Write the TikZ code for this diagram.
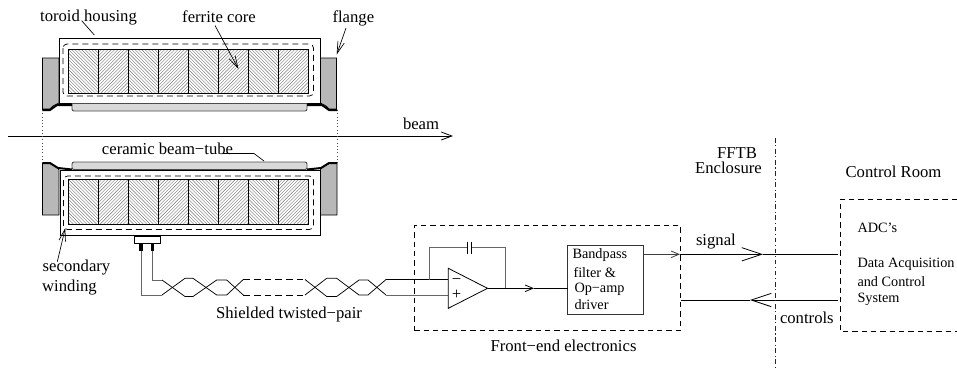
\documentclass[tikz,border=0pt]{standalone}
\usepackage{fontspec}
\setmainfont{Liberation Serif}
\usetikzlibrary{arrows.meta}
\newcommand{\hatchcell}[5]{% x0 y0 x1 y1 dir
  \begin{scope}
    \clip (#1,#2) rectangle (#3,#4);
    \foreach \k in {-30,...,30}{
      \draw[hatchline] ({#1+\k*3.3},#2) -- ({#1+\k*3.3+#5*(#4-#2)},#4);
    }
  \end{scope}}
\tikzset{
  x=0.75pt,y=-0.75pt,
  every node/.style={inner sep=0pt,outer sep=0pt},
  hatchline/.style={draw=black!55,line width=0.3pt},
  lab/.style={font=\fontsize{12.5pt}{14pt}\selectfont,align=center},
  small/.style={font=\fontsize{10.7pt}{12pt}\selectfont,align=left,anchor=west},
  wire/.style={draw=black,line width=0.55pt},
  gwire/.style={draw=black!60,line width=0.75pt},
  thick line/.style={draw=black,line width=1.5pt},
  dashbox/.style={draw=black,line width=0.55pt,dash pattern=on 4pt off 3pt},
  innerdash/.style={draw=black,line width=0.55pt,dash pattern=on 4.5pt off 3pt,rounded corners=3pt},
  dotline/.style={draw=black!70,line width=0.45pt,dotted},
  flangefill/.style={fill=black!28,draw=black,line width=0.6pt},
  tubefill/.style={fill=black!15,draw=black!70,line width=0.7pt,rounded corners=1.5pt},
  housing/.style={draw=black,line width=0.7pt},
  corebox/.style={draw=black,line width=0.7pt},
  openhead/.style={-{Straight Barb[length=6pt,width=5pt,line width=0.6pt]}},
  bighead/.style={-{Straight Barb[length=15pt,width=10pt,line width=0.6pt]}},
  leader/.style={draw=black,line width=0.5pt},
  pointer/.style={draw=black,line width=0.5pt,-{Straight Barb[length=9pt,width=5pt,line width=0.5pt]}},
}
\begin{document}
\begin{tikzpicture}
\useasboundingbox (0,0) rectangle (957,369);
% --- top toroid
\draw[flangefill] (42.5,109) -- (42.5,58) -- (59,58) -- (59,103) -- (53,106) -- (50,109) -- cycle;
\draw[flangefill] (336.5,109) -- (336.5,58) -- (320.5,58) -- (320.5,103) -- (326,106) -- (329,109) -- cycle;
\draw[housing] (59,38) rectangle (320.5,103);
\draw[innerdash] (63,44) rectangle (313.5,96);
\foreach \i [evaluate=\i as \xa using 68.3+30*\i, evaluate=\i as \xb using 68.3+30*(\i+1), evaluate=\i as \d using {ifthenelse(mod(\i,2)==0,1,-1)}] in {0,...,7}{
  \hatchcell{\xa}{49.5}{\xb}{93.5}{\d}
  \draw[corebox] (\xa,49.5) rectangle (\xb,93.5);
}
\draw[tubefill] (72,103.5) -- (72,111) -- (307,111) -- (307,103.5);
\draw[thick line] (42,110) -- (50,110) -- (57,105) -- (72,105);
\draw[thick line] (307,105) -- (322,105) -- (329,110) -- (337,110);
% --- bottom toroid
\draw[flangefill] (42.5,215) -- (42.5,163.5) -- (50,163.5) -- (58,168) -- (59,170) -- (59,215) -- cycle;
\draw[flangefill] (337,215) -- (337,163.5) -- (329,163.5) -- (321,168) -- (320.5,170) -- (320.5,215) -- cycle;
\draw[housing] (60,170) rectangle (320.5,235.5);
\draw[innerdash] (63.5,176) rectangle (313.5,229.5);
\foreach \i [evaluate=\i as \xa using 68.5+30.05*\i, evaluate=\i as \xb using 68.5+30.05*(\i+1), evaluate=\i as \d using {ifthenelse(mod(\i,2)==0,1,-1)}] in {0,...,7}{
  \hatchcell{\xa}{179.5}{\xb}{224.5}{\d}
  \draw[corebox] (\xa,179.5) rectangle (\xb,224.5);
}
\draw[tubefill] (72,169.5) -- (72,162) -- (307,162) -- (307,169.5) -- cycle;
\draw[thick line] (42,163) -- (50,163) -- (58,168) -- (72,169.5);
\draw[thick line] (307,169.5) -- (321,168) -- (329,163) -- (337,163);
% --- beam and dotted guides
\coordinate (beamL) at (8,136);
\coordinate (beamR) at (453,136);
\draw[wire,-{Straight Barb[length=8pt,width=6pt,line width=0.6pt]}] (beamL) -- (beamR);
\coordinate (dla) at (42,110); \coordinate (dlb) at (42,163);
\coordinate (dra) at (337,110); \coordinate (drb) at (337,163);
\draw[dotline] (dla) -- (dlb);
\draw[dotline] (dra) -- (drb);
% --- labels and pointers top
\node[lab] (toroid) at (88.5,17.5) {toroid housing};
\node[lab] (ferrite) at (219,16.5) {ferrite core};
\node[lab,anchor=west] (flange) at (332.5,18.5) {flange};
\node[lab,anchor=west] (beam) at (403,124) {beam};
\node[lab] (ceramic) at (167.5,149) {ceramic beam−tube};
\coordinate (ta) at (81.7,20.7); \coordinate (tb) at (94.3,35);
\draw[leader] (ta) -- (tb);
\coordinate (fa) at (215,25.5); \coordinate (fb) at (238.5,69);
\draw[pointer] (fa) -- (fb);
\coordinate (fla) at (346,28); \coordinate (flb) at (336.7,54.5);
\draw[pointer] (fla) -- (flb);
\coordinate (ca) at (223,153.5); \coordinate (cb) at (254,153.5); \coordinate (cc) at (264,161);
\draw[leader] (ca) -- (cb) -- (cc);
\node[lab] (secondary) at (76.5,268) {secondary};
\node[lab] (winding) at (69.5,288) {winding};
\coordinate (sa) at (57.3,261.7); \coordinate (sb) at (65.3,228);
\draw[pointer] (sa) -- (sb);
% --- connector
\node[draw=black,line width=0.6pt,fill=white,minimum width=19.5pt,minimum height=5.5pt,anchor=north west] (conn) at (134.5,236) {};
\coordinate (pa) at (141,243); \coordinate (pb) at (152.3,243);
\coordinate (pa2) at (141,251); \coordinate (pb2) at (152.3,251);
\draw[draw=black,line width=2.4pt] (pa) -- (pa2);
\draw[draw=black,line width=2.4pt] (pb) -- (pb2);
% --- twisted pair
\draw[gwire] (pa2) -- (141,295) -- (162,295);
\draw[gwire] (pb2) -- (152.3,280) -- (162,280);
\draw[wire] (162,280) -- (185,296.5) -- (193,296.5) -- (216.7,280) -- (226.7,280) -- (243.3,295);
\draw[wire] (162,295) -- (185,278.3) -- (193,278.3) -- (216.7,295) -- (226.7,295) -- (243.3,279.5);
\draw[wire,dash pattern=on 5pt off 3pt] (243.3,279.5) -- (305,279.5);
\draw[wire,dash pattern=on 5pt off 3pt] (243.3,295) -- (305,295);
\draw[wire] (305,279.5) -- (326.7,296.5) -- (336.7,296.5) -- (359,280) -- (368,280) -- (386,295);
\draw[wire] (305,295) -- (326.7,278.3) -- (336.7,278.3) -- (359,295) -- (368,295) -- (386,279.5);
\node[lab] (pairlabel) at (289,314) {Shielded twisted−pair};
% --- op amp
\coordinate (oa) at (448.3,268.3); \coordinate (ob) at (448.3,308.3); \coordinate (oc) at (487.5,288.3);
\draw[wire] (386,279.5) -- (448.3,279.5);
\draw[gwire] (386,295) -- (448.3,295);
\draw[draw=black,line width=0.6pt] (oa) -- (ob) -- (oc) -- cycle;
\node[lab] (minus) at (456.5,282) {−};
\node[lab] (plus) at (456.5,295) {+};
\draw[gwire] (429.3,279.5) -- (429.3,247.7) -- (467.3,247.7);
\draw[gwire] (471.7,247.7) -- (505.3,247.7) -- (505.3,288.3);
\draw[wire] (467.3,241.7) -- (467.3,253.7);
\draw[wire] (471.7,241.7) -- (471.7,253.7);
% --- band-pass box
\node[draw=black!80,line width=0.7pt,minimum width=56.7pt,minimum height=51.2pt,anchor=north west] (bp) at (567.7,245.7) {};
\draw[wire,openhead] (oc) -- (534,288.3);
\draw[wire] (534,288.3) -- (bp.west |- oc);
\node[small] (t1) at (572.5,255) {Bandpass};
\node[small] (t2) at (573.5,272.5) {filter \&};
\node[small] (t3) at (574.5,289.5) {Op−amp};
\node[small] (t4) at (574.5,304.5) {driver};
% --- front-end dashed
\node[dashbox,minimum width=199.6pt,minimum height=78.7pt,anchor=north west] (fe) at (414.3,225.5) {};
\node[lab] (felabel) at (563.5,346) {Front−end electronics};
% --- signal / controls
\coordinate (sigstart) at (643.3,254.3);
\coordinate (sigmid) at (680,254.3);
\coordinate (sigtip) at (763,254.3);
\coordinate (sigend) at (838,254.3);
\draw[draw=black!75,line width=0.7pt,openhead] (sigstart) -- (sigmid);
\draw[wire,bighead] (sigmid) -- (sigtip);
\draw[wire] (sigtip) -- (sigend);
\coordinate (ctlstart) at (838,300);
\coordinate (ctltip) at (750,300);
\coordinate (ctlend) at (681,300);
\draw[wire,bighead] (ctlstart) -- (ctltip);
\draw[wire] (ctltip) -- (ctlend);
\node[lab,anchor=west] (signal) at (696,242) {signal};
\node[lab,anchor=west] (controls) at (780,318) {controls};
% --- divider
\coordinate (da) at (775,138); \coordinate (db) at (775,367);
\draw[draw=black!85,line width=0.5pt,dash pattern=on 3.5pt off 2pt on 0.8pt off 2pt] (da) -- (db);
\node[lab] (fftb) at (737,153) {FFTB};
\node[lab] (encl) at (728.5,168) {Enclosure};
\node[lab] (room) at (893.5,172) {Control Room};
% --- ADC box
\coordinate (ab) at (840.3,199); \coordinate (ac) at (957,199); \coordinate (ad) at (840.3,331.7); \coordinate (ae) at (957,331.7);
\draw[dashbox] (ac) -- (ab) -- (ad) -- (ae);
\node[small] (adc) at (857.5,228) {ADC’s};
\node[small] (d1) at (857.5,264) {Data Acquisition};
\node[small] (d2) at (857.5,281.5) {and Control};
\node[small] (d3) at (857.5,299) {System};
\end{tikzpicture}
\end{document}
